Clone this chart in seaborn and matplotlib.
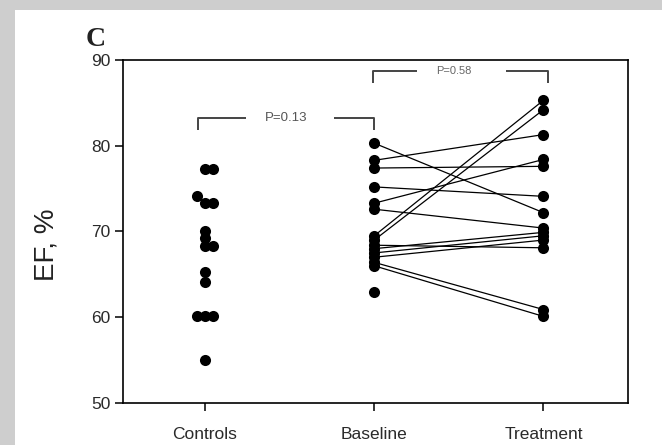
import numpy as np
import pandas as pd
import matplotlib
matplotlib.use("Agg")
import matplotlib.pyplot as plt
from matplotlib.patches import Rectangle
import seaborn as sns

# Ejection fraction (%) per group
groups = ["Controls", "Baseline", "Treatment"]
controls = [55.0, 60.1, 60.1, 60.1, 64.1, 65.3, 68.3, 68.3, 69.2, 70.1,
            73.3, 73.3, 74.1, 77.3, 77.3]
# paired patients: baseline[i] -> treatment[i]; last patient has no follow-up
baseline = [80.3, 78.3, 77.4, 75.2, 73.3, 72.6, 69.5, 69.0, 68.4, 68.0,
            67.5, 67.0, 66.4, 66.0, 63.0]
treatment = [72.2, 81.3, 77.6, 74.1, 78.4, 70.4, 85.3, 84.2, 68.1, 69.9,
             69.5, 69.0, 60.9, 60.1, np.nan]
p_labels = ["P=0.13", "P=0.58"]
yticks = [50, 60, 70, 80, 90]


def spread(values, step=0.045, gap=0.85):
    """Shift overlapping symbols sideways (centre, right, left, ...)."""
    values = np.asarray(values, dtype=float)
    placed = []
    out = np.zeros(len(values))
    for i in np.argsort(values, kind="stable"):
        v = values[i]
        for k in (0, 1, -1, 2, -2, 3, -3):
            if all(not (pk == k and abs(pv - v) < gap) for pv, pk in placed):
                break
        placed.append((v, k))
        out[i] = k * step
    return out


ctrl_x = 0 + spread(controls)
points = pd.DataFrame({
    "x": np.concatenate([ctrl_x, np.full(len(baseline), 1.0), np.full(len(treatment), 2.0)]),
    "ef": np.concatenate([controls, baseline, treatment]),
}).dropna()

pairs = pd.DataFrame({
    "subject": np.tile(np.arange(len(baseline)), 2),
    "x": np.repeat([1.0, 2.0], len(baseline)),
    "ef": np.concatenate([baseline, treatment]),
}).dropna()
pairs = pairs[pairs.groupby("subject")["subject"].transform("size") == 2]

sns.set_theme(style="white")
plt.rcParams["font.family"] = ["Liberation Sans", "DejaVu Sans"]

fig = plt.figure(figsize=(6.62, 4.45), dpi=100)
fig.patch.set_facecolor("#cecece")
fig.add_artist(Rectangle((15 / 662, 0), 1, 1 - 10 / 445, transform=fig.transFigure,
                         facecolor="white", edgecolor="none", zorder=-5))

ax = fig.add_axes([123 / 662, 1 - 403 / 445, 505 / 662, 343 / 445])
ax.set_facecolor("white")

sns.lineplot(data=pairs, x="x", y="ef", units="subject", estimator=None,
             sort=False, color="black", linewidth=0.9, ax=ax, zorder=2)
sns.scatterplot(data=points, x="x", y="ef", color="black", s=64,
                linewidth=0, ax=ax, zorder=3)

ax.set_xlim(-0.485, 2.5)
ax.set_ylim(50, 90)
ax.set_xticks([0, 1, 2], groups)
ax.set_yticks(yticks)
ax.set_xlabel("")
ax.set_ylabel("EF, %", fontsize=20, color="#222222")
ax.yaxis.set_label_coords(-0.125, 0.46)

for s in ax.spines.values():
    s.set_visible(True)
    s.set_color("black")
    s.set_linewidth(1.2)
ax.tick_params(axis="both", which="major", direction="out", length=6, width=1.1,
               color="black", labelcolor="#2a2a2a", labelsize=12.5,
               bottom=True, left=True)
ax.tick_params(axis="x", pad=11)
ax.tick_params(axis="y", pad=3)

# significance brackets
br = dict(color="#444444", linewidth=1.4, clip_on=False, solid_capstyle="butt")
ax.plot([-0.04, -0.04, 0.24], [81.8, 83.2, 83.2], **br)
ax.plot([0.76, 1.0, 1.0], [83.2, 83.2, 81.8], **br)
ax.text(0.48, 83.2, p_labels[0], ha="center", va="center", fontsize=9.5, color="#555555")
ax.plot([0.99, 0.99, 1.25], [87.3, 88.75, 88.75], **br)
ax.plot([1.78, 2.03, 2.03], [88.75, 88.75, 87.3], **br)
ax.text(1.47, 88.75, p_labels[1], ha="center", va="center", fontsize=8, color="#666666")

fig.text(96 / 662, 1 - 40 / 445, "C", ha="center", va="center", fontsize=20,
         fontweight="bold", family=["Liberation Serif", "DejaVu Serif"], color="#222222")

fig.savefig("out.png", dpi=100, facecolor=fig.get_facecolor())
